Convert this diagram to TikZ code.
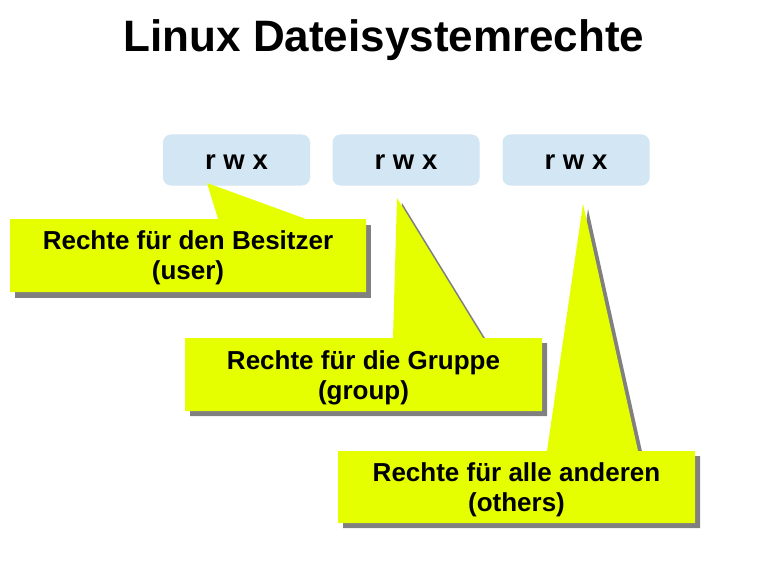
\documentclass[tikz,border=0pt]{standalone}
\usepackage{fontspec}
\setmainfont{Liberation Sans}
\definecolor{rwxblue}{HTML}{D2E6F4}
\definecolor{callyellow}{HTML}{E6FF00}
\definecolor{shadowgray}{HTML}{808080}
\tikzset{
  rwxbox/.style={fill=rwxblue, rounded corners=8pt, minimum width=147pt, minimum height=51pt,
    inner sep=0pt},
  rwxtext/.style={inner sep=0pt, font=\fontsize{27.5}{30}\selectfont\bfseries},
  calltext/.style={align=center, inner sep=0pt, font=\fontsize{26}{30}\selectfont\bfseries},
  callfill/.style={fill=callyellow},
  callshadow/.style={fill=shadowgray},
}
\begin{document}
\begin{tikzpicture}[x=1pt,y=-1pt]
\useasboundingbox (0,0) rectangle (770,564);
\fill[white] (0,0) rectangle (770,564);

\node[font=\fontsize{44}{50}\selectfont\bfseries, anchor=base] (title) at (384,52) {Linux Dateisystemrechte};

\node[rwxbox] (b1) at (236.5,160) {};
\node[rwxbox] (b2) at (406,160) {};
\node[rwxbox] (b3) at (576,160) {};
\node[rwxtext] (t1) at ([yshift=-2pt]b1.center) {r w x};
\node[rwxtext] (t2) at ([yshift=-2pt]b2.center) {r w x};
\node[rwxtext] (t3) at ([yshift=-2pt]b3.center) {r w x};

% apex coordinates of the pointers
\coordinate (p1) at (207,183);
\coordinate (p2) at (397,198);
\coordinate (p3) at (583,204);

% callout 1 (user)
\fill[callshadow] (15,225) rectangle (371,298);
\fill[callfill] (10,219) -- (218,219) -- (p1) -- (306,219) -- (366,219) -- (366,292) -- (10,292) -- cycle;
\node[calltext] (c1) at (188,258) {Rechte für den Besitzer\\(user)};

% callout 2 (group)
\fill[callshadow] ([shift={(5,5)}]p2) -- (488,343) -- (547,343) -- (547,416) -- (190,416) -- (190,343) -- (398,343) -- cycle;
\fill[callfill] (185,338) -- (393,338) -- (p2) -- (483,338) -- (542,338) -- (542,411) -- (185,411) -- cycle;
\node[calltext] (c2) at (363.5,377.5) {Rechte für die Gruppe\\(group)};

% callout 3 (others)
\fill[callshadow] ([shift={(5,5)}]p3) -- (643,456) -- (700,456) -- (700,528) -- (343,528) -- (343,456) -- (552,456) -- cycle;
\fill[callfill] (338,451) -- (547,451) -- (p3) -- (638,451) -- (695,451) -- (695,523) -- (338,523) -- cycle;
\node[calltext] (c3) at (516.5,490) {Rechte für alle anderen\\(others)};
\end{tikzpicture}
\end{document}
